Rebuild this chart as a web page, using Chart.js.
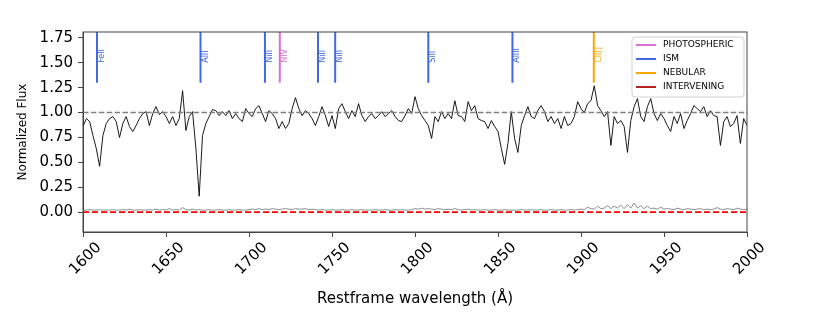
<!DOCTYPE html>
<html>
<head>
<meta charset="utf-8">
<script src="https://cdn.jsdelivr.net/npm/chart.js@4.4.1/dist/chart.umd.min.js"></script>
<style>
  body { margin: 0; background: #fff; }
</style>
</head>
<body>
<canvas id="spectrum" width="830" height="332"></canvas>
<script>
// restframe wavelength grid (A), 2 A steps
const wave = [
  1600,1602,1604,1606,1608,1610,1612,1614,1616,1618,
  1620,1622,1624,1626,1628,1630,1632,1634,1636,1638,
  1640,1642,1644,1646,1648,1650,1652,1654,1656,1658,
  1660,1662,1664,1666,1668,1670,1672,1674,1676,1678,
  1680,1682,1684,1686,1688,1690,1692,1694,1696,1698,
  1700,1702,1704,1706,1708,1710,1712,1714,1716,1718,
  1720,1722,1724,1726,1728,1730,1732,1734,1736,1738,
  1740,1742,1744,1746,1748,1750,1752,1754,1756,1758,
  1760,1762,1764,1766,1768,1770,1772,1774,1776,1778,
  1780,1782,1784,1786,1788,1790,1792,1794,1796,1798,
  1800,1802,1804,1806,1808,1810,1812,1814,1816,1818,
  1820,1822,1824,1826,1828,1830,1832,1834,1836,1838,
  1840,1842,1844,1846,1848,1850,1852,1854,1856,1858,
  1860,1862,1864,1866,1868,1870,1872,1874,1876,1878,
  1880,1882,1884,1886,1888,1890,1892,1894,1896,1898,
  1900,1902,1904,1906,1908,1910,1912,1914,1916,1918,
  1920,1922,1924,1926,1928,1930,1932,1934,1936,1938,
  1940,1942,1944,1946,1948,1950,1952,1954,1956,1958,
  1960,1962,1964,1966,1968,1970,1972,1974,1976,1978,
  1980,1982,1984,1986,1988,1990,1992,1994,1996,1998,
  2000
];

const flux = [
  0.86,0.94,0.91,0.77,0.64,0.46,0.77,0.89,0.94,0.96,
  0.91,0.75,0.89,0.96,0.86,0.81,0.87,0.94,0.99,1.01,
  0.87,0.99,1.06,0.98,1.01,0.96,0.89,0.96,0.87,0.94,
  1.22,0.82,0.96,1.01,0.64,0.16,0.77,0.89,0.96,1.03,
  1.02,0.97,1.01,0.97,1.02,0.94,0.99,0.94,0.91,1.04,
  0.99,0.96,1.04,1.07,0.99,0.91,1.02,0.99,0.94,0.84,
  0.91,0.84,0.89,1.04,1.15,1.04,0.97,1.02,0.99,0.94,
  0.87,0.96,1.06,0.97,0.86,0.97,0.84,1.04,1.09,1.01,
  0.94,1.02,0.96,1.09,0.97,0.91,0.96,0.99,0.94,0.97,
  1.01,0.96,0.99,1.02,0.96,0.92,0.91,0.97,1.04,0.99,
  1.16,1.04,0.97,0.92,0.87,0.74,0.96,0.91,1.01,0.94,
  0.99,0.94,1.12,0.97,0.96,0.91,1.11,1.02,1.07,0.94,
  0.92,0.91,0.84,0.92,0.86,0.81,0.64,0.48,0.69,1.01,
  0.74,0.60,0.87,0.97,1.06,0.96,0.94,1.02,1.07,1.01,
  0.91,0.96,0.89,0.94,0.84,0.96,0.87,0.89,0.96,1.11,
  1.04,1.00,1.09,1.12,1.27,1.07,1.02,0.96,1.01,0.67,
  0.96,0.89,0.92,0.86,0.60,0.92,1.06,1.14,0.96,0.91,
  1.06,1.14,0.99,0.92,0.99,0.94,0.87,0.81,0.96,0.89,
  0.99,0.84,0.92,0.99,1.07,1.04,1.01,1.06,0.96,1.02,
  0.97,0.96,0.67,0.91,0.96,0.86,0.89,0.97,0.69,0.94,
  0.87
];

const fluxErr = [
  0.02,0.02,0.025,0.02,0.02,0.025,0.02,0.02,0.02,0.025,
  0.02,0.02,0.025,0.02,0.03,0.02,0.02,0.025,0.02,0.02,
  0.025,0.02,0.03,0.02,0.025,0.02,0.035,0.02,0.025,0.02,
  0.045,0.025,0.02,0.03,0.02,0.025,0.02,0.02,0.025,0.02,
  0.02,0.025,0.02,0.02,0.025,0.02,0.02,0.025,0.02,0.02,
  0.025,0.03,0.025,0.035,0.025,0.03,0.025,0.035,0.03,0.025,
  0.03,0.035,0.03,0.025,0.035,0.03,0.03,0.035,0.025,0.03,
  0.025,0.02,0.025,0.02,0.02,0.025,0.02,0.02,0.025,0.02,
  0.02,0.025,0.02,0.02,0.025,0.02,0.02,0.02,0.025,0.02,
  0.02,0.025,0.02,0.02,0.025,0.02,0.025,0.02,0.02,0.025,
  0.035,0.03,0.04,0.03,0.035,0.03,0.025,0.035,0.03,0.025,
  0.03,0.025,0.035,0.025,0.02,0.025,0.03,0.02,0.025,0.02,
  0.02,0.025,0.02,0.02,0.025,0.02,0.02,0.025,0.02,0.02,
  0.02,0.02,0.025,0.02,0.02,0.025,0.02,0.02,0.025,0.02,
  0.02,0.025,0.02,0.02,0.025,0.02,0.02,0.025,0.02,0.025,
  0.03,0.025,0.05,0.035,0.03,0.06,0.035,0.04,0.065,0.035,
  0.06,0.04,0.07,0.035,0.075,0.04,0.09,0.04,0.065,0.035,
  0.06,0.035,0.04,0.03,0.05,0.03,0.035,0.03,0.025,0.04,
  0.03,0.025,0.035,0.03,0.025,0.03,0.035,0.025,0.03,0.025,
  0.03,0.045,0.03,0.025,0.035,0.03,0.025,0.04,0.03,0.025,
  0.03
];

const xTicks = [1600, 1650, 1700, 1750, 1800, 1850, 1900, 1950, 2000];
const yTicks = [0, 0.25, 0.5, 0.75, 1.0, 1.25, 1.5, 1.75];

// marked lines
const lineNames = ['FeII', 'AlII', 'NiII', 'NIV', 'NiII', 'NiII', 'SiII', 'AlIII', 'CIII]'];
const lineWaves = [1608.45, 1670.79, 1709.6, 1718.55, 1741.55, 1751.92, 1808.0, 1858.7, 1907.7];
const lineKinds = ['ISM', 'ISM', 'ISM', 'PHOTOSPHERIC', 'ISM', 'ISM', 'ISM', 'ISM', 'NEBULAR'];

const kindNames = ['PHOTOSPHERIC', 'ISM', 'NEBULAR', 'INTERVENING'];
const kindColors = {
  PHOTOSPHERIC: '#da70d6',
  ISM: '#4169e1',
  NEBULAR: '#ffa500',
  INTERVENING: '#b22222'
};

const FONT = "'DejaVu Sans', sans-serif";
Chart.defaults.font.family = FONT;

const datasets = [
  {
    label: 'flux',
    data: wave.map((w, i) => ({ x: w, y: flux[i] })),
    borderColor: '#000',
    borderWidth: 0.9,
    pointRadius: 0,
    order: 2
  },
  {
    label: 'error',
    data: wave.map((w, i) => ({ x: w, y: fluxErr[i] })),
    borderColor: '#808080',
    borderWidth: 0.9,
    pointRadius: 0,
    order: 3
  },
  {
    label: 'continuum',
    data: [{ x: 1600, y: 1 }, { x: 2000, y: 1 }],
    borderColor: '#808080',
    borderWidth: 1.5,
    borderDash: [5.5, 2.4],
    pointRadius: 0,
    order: 1
  },
  {
    label: 'zero',
    data: [{ x: 1600, y: 0 }, { x: 2000, y: 0 }],
    borderColor: '#ff0000',
    borderWidth: 1.8,
    borderDash: [6, 3],
    pointRadius: 0,
    order: 1
  }
];

lineWaves.forEach((w, i) => {
  datasets.push({
    label: lineNames[i],
    data: [{ x: w, y: 1.3 }, { x: w, y: 2.0 }],
    borderColor: kindColors[lineKinds[i]],
    borderWidth: 2,
    pointRadius: 0,
    order: 0
  });
});

const decorations = {
  id: 'decorations',
  afterDraw(chart) {
    const { ctx, chartArea: a, scales } = chart;
    ctx.save();

    // frame
    ctx.strokeStyle = '#444';
    ctx.lineWidth = 1;
    ctx.strokeRect(a.left, a.top, a.right - a.left, a.bottom - a.top);

    // line labels
    ctx.font = '8px ' + FONT;
    ctx.textAlign = 'left';
    ctx.textBaseline = 'alphabetic';
    lineWaves.forEach((w, i) => {
      const x = scales.x.getPixelForValue(w) + 7;
      const y = scales.y.getPixelForValue(1.5);
      ctx.save();
      ctx.translate(x, y);
      ctx.rotate(-Math.PI / 2);
      ctx.fillStyle = kindColors[lineKinds[i]];
      ctx.fillText(lineNames[i], 0, 0);
      ctx.restore();
    });

    // legend
    const bw = 112, bh = 60;
    const bx = a.right - bw - 3, by = a.top + 5;
    ctx.beginPath();
    ctx.roundRect(bx, by, bw, bh, 3);
    ctx.fillStyle = 'rgba(255,255,255,0.85)';
    ctx.fill();
    ctx.strokeStyle = '#d0d0d0';
    ctx.stroke();
    ctx.font = '9px ' + FONT;
    ctx.textBaseline = 'middle';
    kindNames.forEach((k, i) => {
      const ry = by + 8 + i * 14;
      ctx.strokeStyle = kindColors[k];
      ctx.lineWidth = 2;
      ctx.beginPath();
      ctx.moveTo(bx + 4, ry);
      ctx.lineTo(bx + 24, ry);
      ctx.stroke();
      ctx.fillStyle = '#000';
      ctx.fillText(k, bx + 31, ry);
    });

    ctx.restore();
  }
};

new Chart(document.getElementById('spectrum'), {
  type: 'line',
  data: { datasets },
  options: {
    responsive: false,
    animation: false,
    layout: { padding: { left: 0, right: 83, top: 32, bottom: 0 } },
    plugins: {
      legend: { display: false },
      tooltip: { enabled: false }
    },
    scales: {
      x: {
        type: 'linear',
        min: 1600,
        max: 2000,
        afterBuildTicks: s => { s.ticks = xTicks.map(v => ({ value: v })); },
        afterFit: s => { s.height = 100; },
        grid: { drawOnChartArea: false, tickLength: 5, color: '#444' },
        border: { color: '#444' },
        ticks: {
          autoSkip: false,
          minRotation: 45,
          maxRotation: 45,
          labelOffset: 16,
          padding: 2,
          color: '#000',
          font: { size: 15 },
          callback: v => String(v)
        },
        title: {
          display: true,
          text: 'Restframe wavelength (Å)',
          color: '#000',
          font: { size: 15 },
          padding: { top: 0, bottom: 24 }
        }
      },
      y: {
        type: 'linear',
        min: -0.2,
        max: 1.81,
        afterBuildTicks: s => { s.ticks = yTicks.map(v => ({ value: v })); },
        afterFit: s => { s.width = 83; },
        grid: { drawOnChartArea: false, tickLength: 5, color: '#444' },
        border: { color: '#444' },
        ticks: {
          padding: 5,
          color: '#000',
          font: { size: 15 },
          callback: v => v.toFixed(2)
        },
        title: {
          display: true,
          text: 'Normalized Flux',
          color: '#000',
          font: { size: 12 },
          padding: { top: 16, bottom: 0 }
        }
      }
    }
  },
  plugins: [decorations]
});
</script>
</body>
</html>
